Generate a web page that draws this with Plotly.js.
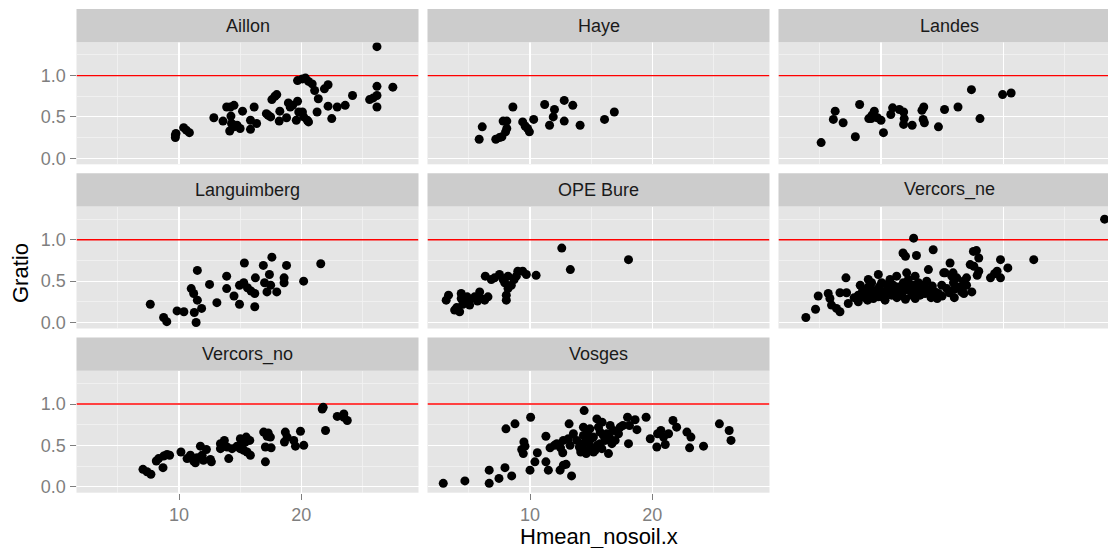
<!DOCTYPE html>
<html>
<head>
<meta charset="utf-8">
<script src="https://cdn.plot.ly/plotly-3.0.1.min.js"></script>
<style>
  html, body { margin: 0; padding: 0; background: #ffffff; overflow: hidden; }
  #chart { width: 1108px; height: 548px; }
</style>
</head>
<body>
<div id="chart"></div>
<script>
// Facet order and labels
const sites = ["Aillon", "Haye", "Landes", "Languimberg", "OPE Bure", "Vercors_ne", "Vercors_no", "Vosges"];

// Hmean_nosoil.x (H) and Gratio (G) for each site
const aillonH = [9.7, 9.7, 9.75, 10.38, 10.6, 10.85, 12.85, 13.6, 13.9, 14.2, 14.5, 15.2, 16.15, 14.25, 14.3, 14.75, 14.15, 15.0, 14.5, 15.85, 15.85, 16.35, 17.15, 17.5, 17.6, 17.85, 18.0, 18.25, 18.2, 18.8, 18.95, 19.3, 19.7, 19.1, 19.6, 19.8, 20.1, 20.2, 20.5, 20.6, 19.7, 20.1, 20.35, 20.6, 20.9, 21.1, 21.4, 21.3, 21.9, 22.2, 22.2, 22.5, 22.95, 23.6, 24.2, 25.6, 25.9, 26.2, 26.2, 26.2, 26.2, 27.5, 17.3];
const aillonG = [0.25, 0.28, 0.30, 0.37, 0.34, 0.31, 0.49, 0.45, 0.62, 0.62, 0.64, 0.57, 0.62, 0.51, 0.42, 0.40, 0.33, 0.36, 0.38, 0.46, 0.35, 0.42, 0.54, 0.50, 0.71, 0.75, 0.77, 0.57, 0.45, 0.49, 0.67, 0.64, 0.69, 0.62, 0.46, 0.56, 0.56, 0.50, 0.46, 0.44, 0.94, 0.96, 0.97, 0.93, 0.90, 0.82, 0.72, 0.56, 0.84, 0.89, 0.63, 0.48, 0.62, 0.64, 0.76, 0.71, 0.73, 0.76, 0.62, 0.87, 1.35, 0.86, 0.52];

const hayeH = [5.84, 6.09, 7.2, 7.5, 7.7, 7.8, 8.1, 8.1, 8.0, 8.6, 9.4, 9.6, 9.8, 9.95, 10.3, 11.2, 11.6, 12.0, 11.9, 12.8, 12.8, 13.5, 14.1, 16.1, 16.9];
const hayeG = [0.23, 0.38, 0.23, 0.25, 0.26, 0.45, 0.45, 0.36, 0.32, 0.62, 0.44, 0.39, 0.36, 0.32, 0.47, 0.65, 0.40, 0.59, 0.50, 0.70, 0.45, 0.64, 0.40, 0.47, 0.56];

const landesH = [5.1, 6.25, 6.1, 6.9, 7.9, 8.25, 9.0, 9.26, 9.45, 9.7, 10.0, 10.2, 10.8, 10.95, 11.5, 11.85, 11.9, 11.85, 12.55, 13.35, 13.5, 13.45, 13.55, 14.7, 15.2, 16.3, 17.4, 18.1, 19.95, 20.65, 9.2];
const landesG = [0.19, 0.57, 0.47, 0.43, 0.26, 0.65, 0.48, 0.52, 0.57, 0.49, 0.46, 0.31, 0.53, 0.61, 0.59, 0.56, 0.48, 0.41, 0.40, 0.58, 0.62, 0.47, 0.43, 0.38, 0.59, 0.62, 0.83, 0.48, 0.77, 0.79, 0.48];

const languimbergH = [7.65, 8.74, 9.0, 9.84, 10.4, 11.25, 11.4, 11.0, 11.2, 11.5, 11.85, 11.5, 12.5, 13.1, 13.9, 13.9, 14.5, 14.95, 15.3, 14.95, 15.35, 15.6, 15.9, 16.2, 16.2, 16.25, 16.9, 17.0, 17.2, 17.4, 17.6, 17.5, 18.0, 18.6, 18.6, 18.8, 20.2, 21.6];
const languimbergG = [0.22, 0.06, 0.01, 0.14, 0.13, 0.12, 0.0, 0.41, 0.35, 0.27, 0.17, 0.63, 0.46, 0.24, 0.56, 0.41, 0.32, 0.45, 0.48, 0.22, 0.72, 0.42, 0.38, 0.35, 0.19, 0.54, 0.69, 0.48, 0.37, 0.58, 0.79, 0.45, 0.37, 0.54, 0.48, 0.69, 0.50, 0.71];

const opeBureH = [3.14, 3.33, 3.83, 4.0, 4.24, 4.37, 4.37, 4.65, 4.86, 5.06, 5.06, 5.47, 5.88, 6.0, 6.29, 6.56, 6.34, 6.83, 7.1, 7.5, 7.8, 7.93, 8.2, 8.2, 8.06, 8.06, 8.47, 8.7, 8.88, 9.0, 9.4, 9.7, 10.5, 12.6, 13.3, 18.06, 4.5, 5.7];
const opeBureG = [0.27, 0.33, 0.15, 0.18, 0.13, 0.35, 0.29, 0.25, 0.31, 0.27, 0.21, 0.31, 0.37, 0.29, 0.27, 0.31, 0.56, 0.52, 0.54, 0.58, 0.52, 0.48, 0.56, 0.41, 0.27, 0.33, 0.45, 0.52, 0.56, 0.62, 0.62, 0.58, 0.57, 0.90, 0.64, 0.76, 0.22, 0.26];

const vercorsNeH = [3.85, 4.64, 4.86, 5.68, 5.82, 5.95, 6.36, 6.64, 6.64, 7.18, 7.13, 7.32, 8.14, 8.14, 8.82, 8.96, 8.96, 9.23, 9.37, 9.78, 9.78, 9.78, 10.05, 10.19, 10.33, 10.6, 10.74, 10.87, 11.0, 11.15, 11.28, 11.42, 11.69, 11.83, 11.97, 11.8, 12.0, 12.1, 12.24, 12.38, 12.5, 12.65, 12.79, 12.92, 13.06, 12.67, 12.9, 13.33, 13.6, 13.74, 13.88, 14.0, 14.27, 14.43, 14.7, 14.97, 15.25, 15.38, 15.65, 15.79, 15.93, 16.2, 16.34, 16.6, 16.75, 17.0, 17.3, 17.43, 17.56, 17.81, 18.0, 17.6, 15.13, 15.9, 18.0, 17.87, 18.96, 19.29, 19.78, 20.38, 19.78, 19.5, 22.5, 28.3, 16.72, 16.78, 9.5, 9.9, 10.4, 10.5, 10.2, 9.6, 9.2, 8.7, 8.5, 11.3, 11.5, 12.0, 12.2, 12.8, 13.2, 13.5, 14.2, 14.6, 15.0, 15.6, 16.0, 10.9, 11.7, 13.0, 14.1, 8.3, 7.8, 8.9, 9.1, 10.0, 17.0, 16.0];
const vercorsNeG = [0.06, 0.16, 0.32, 0.35, 0.29, 0.21, 0.17, 0.13, 0.36, 0.36, 0.54, 0.23, 0.33, 0.25, 0.35, 0.43, 0.52, 0.48, 0.29, 0.58, 0.41, 0.31, 0.48, 0.37, 0.27, 0.41, 0.52, 0.33, 0.45, 0.37, 0.56, 0.43, 0.33, 0.48, 0.39, 0.84, 0.80, 0.60, 0.52, 0.41, 0.33, 0.45, 0.56, 0.37, 0.48, 1.02, 0.81, 0.41, 0.35, 0.50, 0.64, 0.39, 0.88, 0.37, 0.35, 0.45, 0.60, 0.41, 0.72, 0.56, 0.48, 0.54, 0.43, 0.37, 0.50, 0.54, 0.70, 0.37, 0.86, 0.87, 0.78, 0.68, 0.60, 0.60, 0.62, 0.57, 0.54, 0.59, 0.54, 0.66, 0.76, 0.62, 0.76, 1.25, 0.43, 0.35, 0.38, 0.44, 0.35, 0.46, 0.30, 0.35, 0.40, 0.30, 0.39, 0.30, 0.39, 0.28, 0.44, 0.29, 0.33, 0.45, 0.44, 0.29, 0.32, 0.36, 0.30, 0.40, 0.42, 0.40, 0.30, 0.45, 0.30, 0.27, 0.34, 0.34, 0.45, 0.40];

const vercorsNoH = [7.05, 7.38, 7.7, 8.14, 8.33, 8.69, 8.74, 9.02, 9.23, 10.16, 10.66, 10.93, 11.2, 11.34, 11.48, 11.75, 11.89, 12.0, 12.24, 12.57, 12.65, 13.39, 13.39, 13.71, 13.93, 14.07, 14.34, 14.75, 15.02, 15.16, 15.3, 15.43, 15.57, 15.79, 15.84, 16.93, 17.21, 17.48, 17.07, 17.54, 17.07, 18.7, 18.85, 18.63, 19.39, 19.53, 19.94, 20.21, 21.72, 21.99, 22.95, 23.49, 23.77, 23.49, 11.0, 13.6, 15.0, 15.5, 17.3, 21.8];
const vercorsNoG = [0.21, 0.18, 0.15, 0.31, 0.34, 0.23, 0.37, 0.39, 0.38, 0.42, 0.34, 0.38, 0.31, 0.29, 0.35, 0.49, 0.38, 0.32, 0.45, 0.33, 0.30, 0.52, 0.46, 0.56, 0.48, 0.34, 0.46, 0.49, 0.58, 0.50, 0.44, 0.54, 0.42, 0.56, 0.38, 0.66, 0.61, 0.60, 0.48, 0.47, 0.30, 0.66, 0.60, 0.54, 0.56, 0.49, 0.67, 0.50, 0.94, 0.68, 0.85, 0.88, 0.80, 0.84, 0.35, 0.50, 0.46, 0.60, 0.65, 0.96];

const vosgesH = [2.9, 4.67, 6.66, 6.66, 7.46, 7.95, 8.5, 8.03, 8.77, 10.05, 9.5, 9.32, 9.45, 9.59, 10.0, 10.4, 10.6, 11.3, 11.3, 11.5, 11.64, 12.0, 12.46, 12.73, 12.95, 12.5, 12.68, 12.73, 13.2, 13.4, 13.14, 13.55, 13.28, 13.83, 14.04, 14.15, 14.37, 14.37, 14.5, 14.5, 14.43, 14.78, 14.97, 15.19, 15.33, 15.47, 15.6, 15.74, 15.74, 15.88, 16.15, 16.29, 16.42, 16.56, 16.7, 16.83, 16.97, 17.24, 17.38, 17.98, 18.14, 18.6, 18.75, 18.06, 19.5, 19.84, 20.38, 20.44, 20.71, 20.93, 21.07, 21.34, 21.7, 22.0, 22.84, 23.17, 23.06, 24.2, 25.5, 26.3, 26.45, 14.2, 14.7, 15.0, 15.5, 15.9, 16.0, 14.6, 15.2, 16.5, 17.6, 12.2, 14.9];
const vosgesG = [0.04, 0.07, 0.04, 0.20, 0.10, 0.23, 0.13, 0.70, 0.76, 0.84, 0.54, 0.45, 0.40, 0.49, 0.20, 0.30, 0.41, 0.61, 0.30, 0.20, 0.47, 0.50, 0.20, 0.26, 0.27, 0.47, 0.41, 0.56, 0.76, 0.13, 0.58, 0.64, 0.50, 0.56, 0.48, 0.42, 0.72, 0.62, 0.54, 0.44, 0.92, 0.56, 0.48, 0.60, 0.44, 0.82, 0.72, 0.66, 0.52, 0.46, 0.56, 0.64, 0.40, 0.74, 0.52, 0.68, 0.56, 0.64, 0.72, 0.84, 0.74, 0.81, 0.69, 0.52, 0.84, 0.58, 0.48, 0.64, 0.68, 0.60, 0.51, 0.64, 0.80, 0.72, 0.66, 0.60, 0.47, 0.49, 0.76, 0.68, 0.56, 0.50, 0.66, 0.58, 0.50, 0.78, 0.62, 0.40, 0.42, 0.60, 0.74, 0.52, 0.70];

const seriesH = [aillonH, hayeH, landesH, languimbergH, opeBureH, vercorsNeH, vercorsNoH, vosgesH];
const seriesG = [aillonG, hayeG, landesG, languimbergG, opeBureG, vercorsNeG, vercorsNoG, vosgesG];

// Axis ticks and reference level
const xTicks = [10, 20];
const xMinor = [5, 15, 25];
const yTicks = [0, 0.5, 1.0];
const yTickText = ["0.0", "0.5", "1.0"];
const yMinor = [0.25, 0.75, 1.25];
const refLevel = 1.0;

// ---- page geometry (pixels) ----
const W = 1108, H = 548;
const colLeft = [76.5, 427.5, 778.5];
const panelW = 342;
const rowTop = [42.3, 206.5, 370.7];
const panelH = 122;
const stripH = 33.3;
const xRange = [1.61, 29.6];
const yRange = [-0.073, 1.403];

const FONT = "Liberation Sans, Arial, Helvetica, sans-serif";
const px2x = p => p / W;
const px2y = p => 1 - p / H;

const lineTraces = [];
const pointTraces = [];
const layout = {
  width: W, height: H,
  margin: { l: 0, r: 0, t: 0, b: 0, pad: 0 },
  paper_bgcolor: "#ffffff",
  plot_bgcolor: "#E5E5E5",
  showlegend: false,
  font: { family: FONT, color: "#7F7F7F" },
  shapes: [],
  annotations: []
};

sites.forEach((name, i) => {
  const col = i % 3, row = Math.floor(i / 3);
  const n = i === 0 ? "" : String(i + 1);
  const left = colLeft[col];
  const right = Math.min(left + panelW, W);
  const top = rowTop[row];
  const bottom = top + panelH;
  const xr = [xRange[0], xRange[0] + (right - left) / panelW * (xRange[1] - xRange[0])];
  const bottomRow = (i >= 6);
  const leftCol = (col === 0);

  layout["xaxis" + n] = {
    domain: [px2x(left), px2x(right)],
    range: xr,
    anchor: "y" + n,
    tickmode: "array", tickvals: xTicks, ticktext: xTicks.map(String),
    showticklabels: bottomRow,
    ticks: bottomRow ? "outside" : "",
    ticklen: 6, tickwidth: 1, tickcolor: "#7F7F7F",
    tickfont: { family: FONT, size: 18, color: "#7F7F7F" },
    showgrid: true, gridcolor: "#FFFFFF", gridwidth: 1.1,
    minor: { tickmode: "array", tickvals: xMinor, showgrid: true, gridcolor: "#F2F2F2", gridwidth: 0.8, ticks: "" },
    zeroline: false, showline: false, fixedrange: true
  };
  layout["yaxis" + n] = {
    domain: [px2y(bottom), px2y(top)],
    range: yRange,
    anchor: "x" + n,
    tickmode: "array", tickvals: yTicks, ticktext: yTickText,
    showticklabels: leftCol,
    ticks: leftCol ? "outside" : "",
    ticklen: 6, tickwidth: 1, tickcolor: "#7F7F7F",
    tickfont: { family: FONT, size: 18, color: "#7F7F7F" },
    showgrid: true, gridcolor: "#FFFFFF", gridwidth: 1.1,
    minor: { tickmode: "array", tickvals: yMinor, showgrid: true, gridcolor: "#F2F2F2", gridwidth: 0.8, ticks: "" },
    zeroline: false, showline: false, fixedrange: true
  };

  // reference line at Gratio = 1, spanning the panel
  lineTraces.push({
    type: "scatter", mode: "lines",
    x: xr, y: [refLevel, refLevel],
    xaxis: "x" + n, yaxis: "y" + n,
    line: { color: "#FF0000", width: 1.4 },
    hoverinfo: "skip"
  });

  pointTraces.push({
    type: "scatter", mode: "markers",
    x: seriesH[i], y: seriesG[i],
    xaxis: "x" + n, yaxis: "y" + n,
    marker: { color: "#000000", size: 9, line: { width: 0 } },
    hoverinfo: "x+y"
  });

  // facet strip
  layout.shapes.push({
    type: "rect", xref: "paper", yref: "paper", layer: "above",
    x0: px2x(left), x1: px2x(right), y0: px2y(top), y1: px2y(top - stripH),
    fillcolor: "#CCCCCC", line: { width: 0 }
  });
  layout.annotations.push({
    xref: "paper", yref: "paper",
    x: px2x(left + panelW / 2), y: px2y(top - stripH / 2),
    xanchor: "center", yanchor: "middle", showarrow: false,
    text: name, font: { family: FONT, size: 18, color: "#1A1A1A" }
  });
});

// axis titles
layout.annotations.push({
  xref: "paper", yref: "paper", x: px2x(598.5), y: px2y(551), xanchor: "center", yanchor: "bottom",
  showarrow: false, text: "Hmean_nosoil.x", font: { family: FONT, size: 22, color: "#000000" }
});
layout.annotations.push({
  xref: "paper", yref: "paper", x: px2x(21), y: px2y(273), xanchor: "center", yanchor: "middle",
  showarrow: false, textangle: -90, text: "Gratio", font: { family: FONT, size: 22, color: "#000000" }
});

Plotly.newPlot("chart", lineTraces.concat(pointTraces), layout, { displayModeBar: false, staticPlot: true });
</script>
</body>
</html>
